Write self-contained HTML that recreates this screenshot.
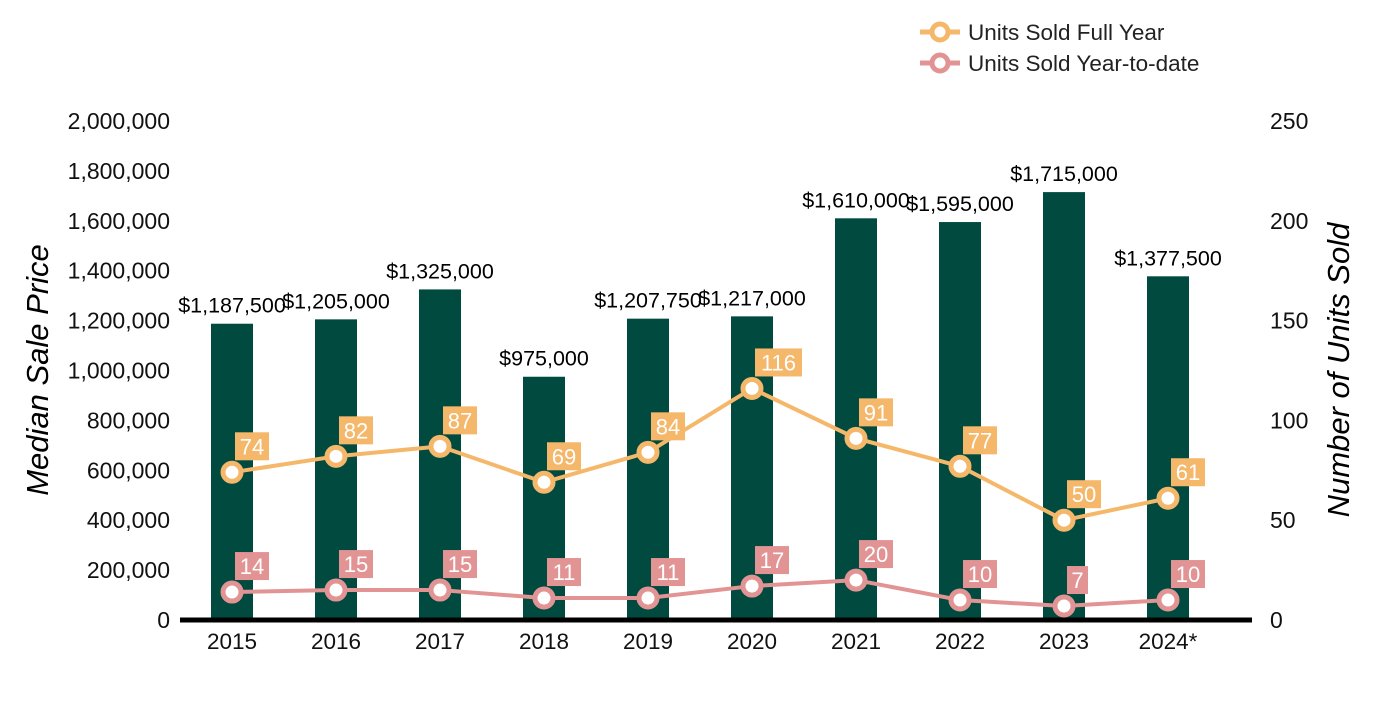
<!DOCTYPE html>
<html><head><meta charset="utf-8"><style>
body{margin:0;background:#fff;width:1400px;height:700px;overflow:hidden}
svg{font-family:"Liberation Sans",Arial,sans-serif}
</style></head><body>
<svg id="chart" width="1400" height="700">
<g id="legend">
 <g>
  <line x1="920" y1="32" x2="960" y2="32" stroke="#f5b76a" stroke-width="5"/>
  <circle cx="940" cy="32" r="8" fill="#fff" stroke="#f5b76a" stroke-width="5"/>
  <text x="968" y="40" font-size="22.5" fill="#222">Units Sold Full Year</text>
 </g>
 <g>
  <line x1="920" y1="63" x2="960" y2="63" stroke="#e29494" stroke-width="5"/>
  <circle cx="940" cy="63" r="8" fill="#fff" stroke="#e29494" stroke-width="5"/>
  <text x="968" y="71" font-size="22.5" fill="#222">Units Sold Year-to-date</text>
 </g>
</g>
<text transform="translate(48,370) rotate(-90)" text-anchor="middle" font-size="31" font-style="italic" fill="#000">Median Sale Price</text>
<text transform="translate(1349,370) rotate(-90)" text-anchor="middle" font-size="31" font-style="italic" fill="#000">Number of Units Sold</text>
<g id="g"></g>
</svg>
<script>
const categories=["2015","2016","2017","2018","2019","2020","2021","2022","2023","2024*"];
const prices=[1187500,1205000,1325000,975000,1207750,1217000,1610000,1595000,1715000,1377500];
const priceLabels=["$1,187,500","$1,205,000","$1,325,000","$975,000","$1,207,750","$1,217,000","$1,610,000","$1,595,000","$1,715,000","$1,377,500"];
const fullYear=[74,82,87,69,84,116,91,77,50,61];
const ytd=[14,15,15,11,11,17,20,10,7,10];
const leftTicks=[0,200000,400000,600000,800000,1000000,1200000,1400000,1600000,1800000,2000000];
const rightTicks=[0,50,100,150,200,250];

const NS="http://www.w3.org/2000/svg";
const g=document.getElementById('g');
const X0=180,BAND=104,BASE=620,TOP=121;
const xc=i=>X0+BAND*(i+0.5);
const yL=v=>BASE-(v/2000000)*(BASE-TOP);
const yR=v=>BASE-(v/250)*(BASE-TOP);
function el(t,a,txt){const e=document.createElementNS(NS,t);for(const k in a)e.setAttribute(k,a[k]);if(txt!=null)e.textContent=txt;g.appendChild(e);return e;}
leftTicks.forEach(v=>{const e=el('text',{x:170,y:yL(v)+8,'text-anchor':'end','font-size':23,fill:'#111'},v.toLocaleString('en-US'));

});
rightTicks.forEach(v=>{const e=el('text',{x:1270,y:yR(v)+8,'font-size':23,fill:'#111'},String(v));

});
prices.forEach((v,i)=>{const b=el('rect',{x:xc(i)-21,y:yL(v),width:42,height:BASE-yL(v),fill:'#004a40'});


const t=el('text',{x:xc(i),y:yL(v)-11,'text-anchor':'middle','font-size':21.5,fill:'#000'},priceLabels[i]);


const c=el('text',{x:xc(i),y:BASE+29,'text-anchor':'middle','font-size':22.5,fill:'#111'},categories[i]);

});
const ax=el('line',{x1:180,y1:BASE,x2:1252,y2:BASE,stroke:'#000','stroke-width':5});


function series(data,color,name){
 const p=el('polyline',{points:data.map((v,i)=>xc(i)+','+yR(v)).join(' '),fill:'none',stroke:color,'stroke-width':4,'stroke-linejoin':'round'});
 
 
 data.forEach((v,i)=>{
  const c=el('circle',{cx:xc(i),cy:yR(v),r:9,fill:'#fff',stroke:color,'stroke-width':5});
  
  
  const s=String(v),w=s.length*13+8;
  const r=el('rect',{x:xc(i)+3,y:yR(v)-40,width:w,height:28,fill:color});
  
  
  const t=el('text',{x:xc(i)+3+w/2,y:yR(v)-18,'text-anchor':'middle','font-size':22,fill:'#fff'},s);
  
  
 });
}
series(fullYear,'#f5b76a','full-year');
series(ytd,'#e29494','year-to-date');
</script>
</body></html>
